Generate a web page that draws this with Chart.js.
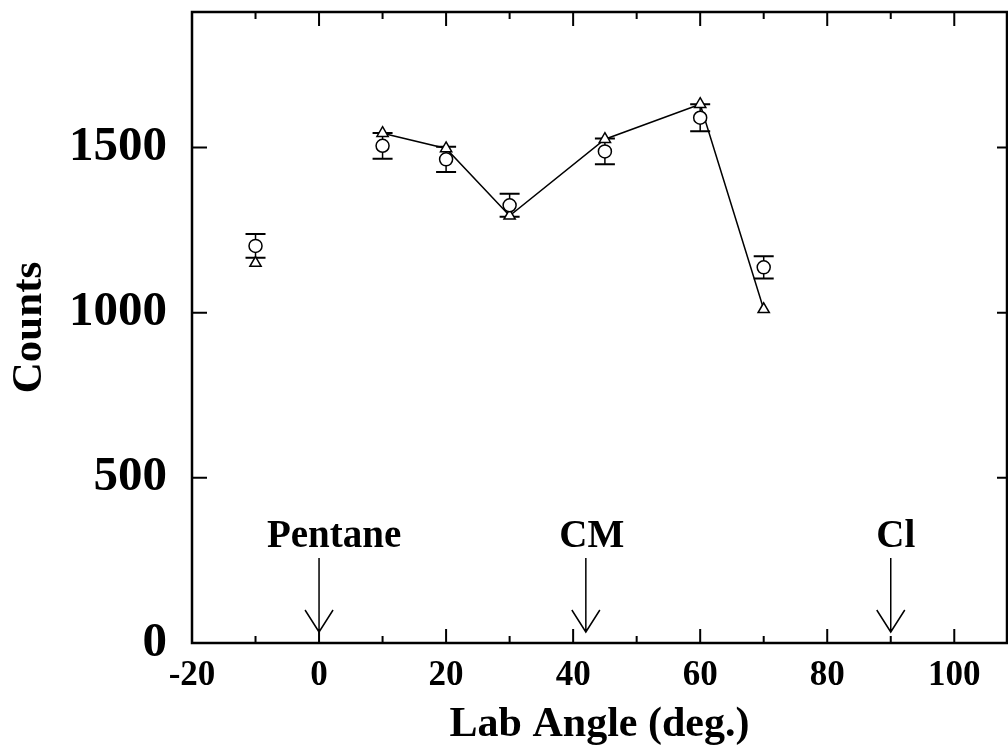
<!DOCTYPE html>
<html><head><meta charset="utf-8">
<script src="https://cdn.jsdelivr.net/npm/chart.js@4/dist/chart.umd.min.js"></script>
<style>html,body{margin:0;padding:0;background:#fff;overflow:hidden}#wrap{width:1008px;height:746px;position:relative}canvas{display:block}</style>
</head><body><div id="wrap"><canvas id="c"></canvas></div>
<script>
const labAngles = [-10, 10, 20, 30, 45, 60, 70];
const measuredCounts = [1202, 1505, 1464, 1325, 1488, 1590, 1137];
const measuredErrors = [36, 39, 38, 35, 39, 41, 34];
const calcCounts = [1150, 1543, 1497, 1293, 1525, 1631, 1010];
const xTickValues = [-20, 0, 20, 40, 60, 80, 100];
const yTickValues = [0, 500, 1000, 1500];
const markerLabels = ['Pentane', 'CM', 'Cl'];
const markerAngles = [0, 42, 90];

const FONT = "'Liberation Serif', 'Times New Roman', serif";

function zeroPad(s) { s.paddingLeft = 0; s.paddingRight = 0; s.paddingTop = 0; s.paddingBottom = 0; }

const framePlugin = {
  id: 'frame',
  beforeDatasetsDraw(chart) {
    const ctx = chart.ctx, xs = chart.scales.x, ys = chart.scales.y;
    ctx.save();
    ctx.strokeStyle = '#000';
    labAngles.forEach((a, i) => {
      const x = xs.getPixelForValue(a);
      const yt = ys.getPixelForValue(measuredCounts[i] + measuredErrors[i]);
      const yb = ys.getPixelForValue(measuredCounts[i] - measuredErrors[i]);
      ctx.lineWidth = 1.5;
      ctx.beginPath(); ctx.moveTo(x, yt); ctx.lineTo(x, yb); ctx.stroke();
      ctx.lineWidth = 2;
      ctx.beginPath();
      ctx.moveTo(x - 10, yt); ctx.lineTo(x + 10, yt);
      ctx.moveTo(x - 10, yb); ctx.lineTo(x + 10, yb);
      ctx.stroke();
    });
    ctx.restore();
  },
  afterDatasetsDraw(chart) {
    const ctx = chart.ctx, a = chart.chartArea, xs = chart.scales.x, ys = chart.scales.y;
    ctx.save();
    ctx.strokeStyle = '#000';
    ctx.lineWidth = 2.5;
    ctx.strokeRect(a.left, a.top, a.right - a.left, a.bottom - a.top);
    ctx.lineWidth = 2;
    ctx.beginPath();
    for (let v = -20; v <= 100; v += 10) {
      const x = xs.getPixelForValue(v);
      const len = (v % 20 === 0) ? 14 : 7;
      ctx.moveTo(x, a.bottom); ctx.lineTo(x, a.bottom - len);
      ctx.moveTo(x, a.top); ctx.lineTo(x, a.top + len);
    }
    yTickValues.forEach(v => {
      const y = ys.getPixelForValue(v);
      ctx.moveTo(a.left, y); ctx.lineTo(a.left + 15, y);
      ctx.moveTo(a.right, y); ctx.lineTo(a.right - 10, y);
    });
    ctx.stroke();
    // arrows
    const dx = [15, 6, 5];
    ctx.lineWidth = 1.5;
    ctx.fillStyle = '#000';
    ctx.font = "bold 39px " + FONT;
    ctx.textAlign = 'center';
    ctx.textBaseline = 'alphabetic';
    markerAngles.forEach((ang, i) => {
      const x = xs.getPixelForValue(ang);
      const tip = a.bottom - 11, top = a.bottom - 85;
      ctx.beginPath();
      ctx.moveTo(x, top); ctx.lineTo(x, tip);
      ctx.moveTo(x - 14, tip - 22); ctx.lineTo(x, tip); ctx.lineTo(x + 14, tip - 22);
      ctx.stroke();
      ctx.fillText(markerLabels[i], x + dx[i], a.bottom - 96);
    });
    ctx.restore();
  }
};

new Chart(document.getElementById('c'), {
  type: 'scatter',
  data: {
    datasets: [
      {
        label: 'Measured',
        data: labAngles.map((x, i) => ({x, y: measuredCounts[i]})),
        showLine: false,
        pointStyle: 'circle',
        pointRadius: 6.5,
        pointBackgroundColor: '#fff',
        pointBorderColor: '#000',
        pointBorderWidth: 1.5
      },
      {
        label: 'Calculated',
        data: labAngles.map((x, i) => ({x, y: calcCounts[i]})),
        showLine: true,
        borderColor: '#000',
        borderWidth: 1.5,
        segment: { borderColor: c => c.p0DataIndex === 0 ? 'rgba(0,0,0,0)' : '#000' },
        pointStyle: 'triangle',
        pointRadius: 6.5,
        pointBackgroundColor: '#fff',
        pointBorderColor: '#000',
        pointBorderWidth: 1.5
      }
    ]
  },
  options: {
    responsive: true,
    maintainAspectRatio: false,
    animation: false,
    layout: { autoPadding: false, padding: { top: 12, right: 1, left: 0, bottom: 0 } },
    plugins: { legend: { display: false }, tooltip: { enabled: false } },
    scales: {
      x: {
        type: 'linear', min: -20, max: 108.3,
        afterBuildTicks: s => { s.ticks = xTickValues.map(v => ({value: v})); },
        afterFit: s => { s.height = 103; zeroPad(s); },
        grid: { display: false, drawTicks: false },
        border: { display: false },
        ticks: { color: '#000', padding: 12, maxRotation: 0, autoSkip: false,
                 callback: v => String(v),
                 font: { family: FONT, weight: 'bold', size: 35 } },
        title: { display: true, text: 'Lab Angle (deg.)', color: '#000',
                 padding: { top: 0, bottom: 0 },
                 font: { family: FONT, weight: 'bold', size: 42, lineHeight: 1.0 } }
      },
      y: {
        type: 'linear', min: 0, max: 1910,
        afterBuildTicks: s => { s.ticks = yTickValues.map(v => ({value: v})); },
        afterFit: s => { s.width = 192; zeroPad(s); },
        grid: { display: false, drawTicks: false },
        border: { display: false },
        ticks: { color: '#000', padding: 25, autoSkip: false,
                 callback: v => String(v),
                 font: { family: FONT, weight: 'bold', size: 49 } },
        title: { display: true, text: 'Counts', color: '#000',
                 padding: { top: 8, bottom: 0 },
                 font: { family: FONT, weight: 'bold', size: 43, lineHeight: 1.0 } }
      }
    }
  },
  plugins: [framePlugin]
});
</script></body></html>
